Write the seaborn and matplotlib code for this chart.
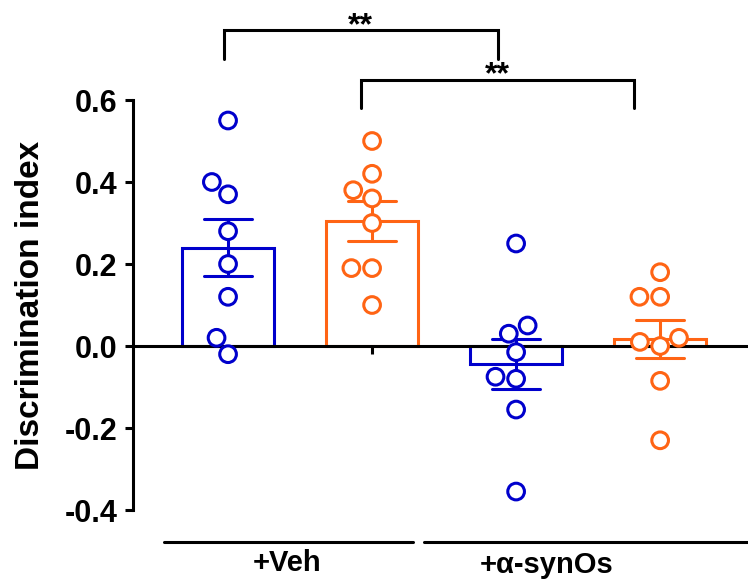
import numpy as np
import pandas as pd
import seaborn as sns
import matplotlib.pyplot as plt

# bars in drawing order: (+Veh blue, +Veh orange, +a-synOs blue, +a-synOs orange)
bar_names = ["veh_blue", "veh_orange", "syn_blue", "syn_orange"]
bar_colors = ["#0000cc", "#ff6414", "#0000cc", "#ff6414"]

veh_blue = [0.55, 0.40, 0.37, 0.28, 0.20, 0.12, 0.02, -0.02]
veh_orange = [0.50, 0.42, 0.38, 0.36, 0.30, 0.19, 0.19, 0.10]
syn_blue = [0.25, 0.05, 0.03, -0.015, -0.08, -0.075, -0.155, -0.355]
syn_orange = [0.18, 0.12, 0.12, 0.02, 0.01, 0.0, -0.085, -0.23]

group_labels = ["+Veh", "+\u03b1-synOs"]
y_ticks = [-0.4, -0.2, 0.0, 0.2, 0.4, 0.6]
y_label = "Discrimination index"

all_vals = [veh_blue, veh_orange, syn_blue, syn_orange]
df = pd.DataFrame({
    "bar": np.repeat(bar_names, [len(v) for v in all_vals]),
    "value": np.concatenate(all_vals),
})

sns.set_style("ticks")
plt.rcParams["font.family"] = ["Liberation Sans", "DejaVu Sans"]
plt.rcParams["font.weight"] = "bold"
plt.rcParams["text.color"] = "black"
plt.rcParams["axes.labelcolor"] = "black"
plt.rcParams["ytick.color"] = "black"
plt.rcParams["xtick.color"] = "black"

fig = plt.figure(figsize=(7.48, 5.85), dpi=100)
ax = fig.add_axes([133 / 748, 75 / 585, 615 / 748, 492 / 585])

LW = 2.2

# =========================
# BARS + SEM
# =========================
for name, vals, col in zip(bar_names, all_vals, bar_colors):
    sns.barplot(
        x=[name] * len(vals), y=vals, order=bar_names,
        fill=False, color=col, linewidth=LW, width=0.64,
        errorbar="se", capsize=0.33,
        err_kws={"color": col, "linewidth": LW},
        ax=ax,
    )

# =========================
# INDIVIDUAL POINTS
# =========================
sns.swarmplot(
    data=df, x="bar", y="value", hue="bar", order=bar_names,
    palette=dict(zip(bar_names, bar_colors)), size=12, linewidth=LW,
    legend=False, ax=ax,
)
for coll in ax.collections:
    fc = coll.get_facecolors()
    coll.set_edgecolors(fc)
    coll.set_facecolors("white")
    coll.set_zorder(4)

# =========================
# AXES
# =========================
ax.set_xlim(-0.66, 3.61)
ax.set_ylim(-0.4, 0.8)
ax.set_yticks(y_ticks)
ax.set_yticklabels([f"{t:.1f}" for t in y_ticks], fontsize=22, fontweight="bold")
ax.set_xticks(range(4))
ax.set_xticklabels([])
ax.set_xlabel("")
ax.set_ylabel(y_label, fontsize=24, fontweight="bold")
# centre the label on the drawn part of the spine (-0.4..0.6)
ax.yaxis.set_label_coords(-0.1415, 0.4167)

for s in ["top", "right"]:
    ax.spines[s].set_visible(False)
ax.spines["left"].set_bounds(-0.4, 0.6)
ax.spines["left"].set_linewidth(LW)
ax.spines["left"].set_color("black")
ax.spines["bottom"].set_position(("data", 0))
ax.spines["bottom"].set_linewidth(LW)
ax.spines["bottom"].set_color("black")
ax.spines["bottom"].set_zorder(3)
ax.tick_params(axis="both", direction="out", length=6, width=LW, color="black")
ax.tick_params(axis="y", pad=5)

# =========================
# SIGNIFICANCE BRACKETS
# =========================
brackets = [(-0.03, 1.875, 0.70, 0.77), (0.92, 2.82, 0.58, 0.649)]
for x1, x2, ylo, yhi in brackets:
    ax.plot([x1, x1, x2, x2], [ylo, yhi, yhi, ylo], color="black",
            lw=LW, clip_on=False, solid_joinstyle="miter")
ax.text(0.92, 0.77 - 0.009, "**", ha="center", va="baseline", fontsize=23, clip_on=False)
ax.text(1.87, 0.649 - 0.009, "**", ha="center", va="baseline", fontsize=23, clip_on=False)

# =========================
# GROUP LABELS
# =========================
ax.plot([-0.444, 1.285], [-0.478, -0.478], color="black", lw=LW, clip_on=False)
ax.plot([1.36, 3.61], [-0.478, -0.478], color="black", lw=LW, clip_on=False)
ax.text(0.41, -0.529, group_labels[0], ha="center", va="center", fontsize=21)
ax.text(2.215, -0.534, group_labels[1], ha="center", va="center", fontsize=21)

plt.savefig("out.png", dpi=100)
plt.close()
